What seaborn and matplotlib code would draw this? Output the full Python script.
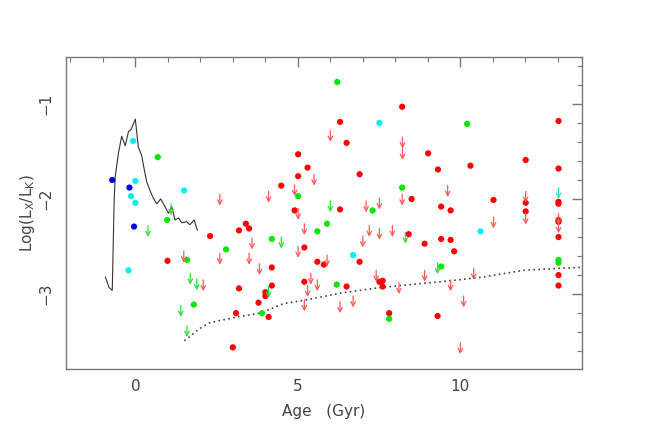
import seaborn as sns
import matplotlib.pyplot as plt
import pandas as pd

# detections (points)
red_x = [2.30, 3.40, 3.19, 3.50, 0.99, 3.19, 3.79, 3.10, 3.00,
         8.21, 6.30, 6.50, 5.01, 5.30, 5.01, 6.90, 4.49, 8.50,
         6.30, 4.90, 8.41, 5.20, 5.60, 5.80, 6.90, 4.20, 7.51, 7.61, 7.61, 5.20,
         6.50, 4.20, 4.00, 4.00, 4.10, 7.81,
         13.02, 9.01, 9.31, 10.31, 12.01, 13.02, 11.02, 9.41, 9.70, 12.01, 12.01,
         13.02, 13.02, 13.02, 13.02, 13.02, 13.02, 13.02, 8.90, 9.41, 9.70, 9.81, 9.30]
red_y = [-2.39, -2.26, -2.33, -2.31, -2.65, -2.94, -3.09, -3.20, -3.56,
         -1.03, -1.19, -1.41, -1.53, -1.67, -1.76, -1.74, -1.86, -2.00,
         -2.11, -2.12, -2.37, -2.51, -2.66, -2.69, -2.66, -2.72, -2.87, -2.86, -2.92, -2.87,
         -2.92, -2.91, -2.98, -3.02, -3.24, -3.20,
         -1.18, -1.52, -1.69, -1.65, -1.59, -1.68, -2.01, -2.08, -2.12, -2.04, -2.13,
         -2.03, -2.05, -2.22, -2.24, -2.40, -2.80, -2.91, -2.47, -2.42, -2.43, -2.55, -3.23]

green_x = [0.69, 0.98, 2.79, 1.59, 1.80, 6.21, 5.01, 8.21, 7.30, 5.90, 5.60,
           4.20, 6.20, 3.90, 7.81, 10.21, 13.02, 13.02, 9.41]
green_y = [-1.56, -2.22, -2.53, -2.64, -3.11, -0.77, -1.97, -1.88, -2.12, -2.26, -2.34,
           -2.42, -2.90, -3.20, -3.26, -1.21, -2.64, -2.67, -2.71]

cyan_x = [-0.07, 0.00, -0.13, 0.00, 1.50, -0.21, 7.51, 6.70, 10.62]
cyan_y = [-1.39, -1.81, -1.97, -2.04, -1.91, -2.75, -1.20, -2.59, -2.34]

blue_x = [-0.71, -0.18, -0.04]
blue_y = [-1.80, -1.88, -2.29]

# upper limits (arrows)
red_lim_x = [2.60, 3.59, 1.49, 2.60, 3.50, 3.82, 2.09,
             6.00, 8.22, 8.22, 5.50, 4.90, 4.10, 8.21, 7.51, 7.10, 5.01, 5.20, 7.20,
             7.51, 7.91, 7.00, 5.01, 5.90, 7.41, 8.11, 5.40, 5.60, 5.30, 5.20, 6.30, 6.70,
             9.61, 12.01, 11.02, 12.01, 13.02, 13.02, 8.90, 10.41, 9.70, 10.10, 10.00]
red_lim_y = [-1.95, -2.41, -2.55, -2.57, -2.57, -2.68, -2.85,
             -1.28, -1.35, -1.47, -1.74, -1.85, -1.92, -1.95, -1.99, -2.02, -2.10, -2.26, -2.28,
             -2.31, -2.28, -2.39, -2.50, -2.59, -2.75, -2.88, -2.78, -2.85, -2.91, -3.06, -3.08, -3.02,
             -1.86, -1.92, -2.19, -2.15, -2.15, -2.24, -2.75, -2.73, -2.85, -3.02, -3.51]

green_lim_x = [1.10, 0.39, 1.69, 1.89, 1.40, 1.59, 6.00, 8.31, 4.49, 4.10, 9.30]
green_lim_y = [-2.05, -2.28, -2.78, -2.84, -3.12, -3.33, -2.02, -2.35, -2.40, -2.92, -2.67]

cyan_lim_x = [13.02]
cyan_lim_y = [-1.88]

# model curves
track_x = [-0.92, -0.81, -0.71, -0.65, -0.62, -0.52, -0.42, -0.31, -0.21, -0.13, -0.06, 0.00,
           0.09, 0.20, 0.28, 0.35, 0.45, 0.55, 0.66, 0.78, 0.88, 1.02, 1.12, 1.22, 1.33,
           1.43, 1.58, 1.68, 1.81, 1.91]
track_y = [-2.82, -2.93, -2.96, -2.00, -1.77, -1.52, -1.34, -1.44, -1.29, -1.27, -1.21, -1.16,
           -1.45, -1.55, -1.70, -1.82, -1.91, -1.99, -2.05, -2.00, -2.06, -2.15, -2.08, -2.22, -2.20,
           -2.25, -2.24, -2.27, -2.22, -2.33]

floor_x = [1.51, 1.73, 1.99, 2.30, 2.71, 3.12, 3.84, 4.56, 5.27, 6.30, 7.33, 8.14, 8.76,
           9.68, 10.71, 11.94, 12.97, 13.68]
floor_y = [-3.49, -3.43, -3.36, -3.30, -3.27, -3.24, -3.20, -3.10, -3.06, -2.99, -2.94, -2.91,
           -2.89, -2.86, -2.82, -2.75, -2.73, -2.72]

sns.set_style("white")
plt.rcParams['font.family'] = ['DejaVu Sans']

pts = pd.concat([
    pd.DataFrame({"age": red_x, "lx": red_y, "grp": "red"}),
    pd.DataFrame({"age": green_x, "lx": green_y, "grp": "green"}),
    pd.DataFrame({"age": cyan_x, "lx": cyan_y, "grp": "cyan"}),
    pd.DataFrame({"age": blue_x, "lx": blue_y, "grp": "blue"}),
])
pal = {"red": "#ff0000", "green": "#00e800", "cyan": "#00f0f0", "blue": "#0000ee"}

fig = plt.figure(figsize=(6.48, 4.37), dpi=100)
ax = fig.add_axes([0.102, 0.155, 0.796, 0.714])

sns.lineplot(x=track_x, y=track_y, sort=False, estimator=None, color="#333333", lw=0.8, ax=ax)
sns.lineplot(x=floor_x, y=floor_y, sort=False, estimator=None, color="#444444", lw=1.2,
             linestyle=(0, (1, 2)), ax=ax)
sns.scatterplot(data=pts, x="age", y="lx", hue="grp", palette=pal, s=20, linewidth=0,
                legend=False, ax=ax, zorder=3)

arrow_len = 0.12
for xs, ys, c in [(red_lim_x, red_lim_y, "#ff5a5a"),
                  (green_lim_x, green_lim_y, "#33dd33"),
                  (cyan_lim_x, cyan_lim_y, "#22e0e8")]:
    for x, y in zip(xs, ys):
        ax.annotate("", xy=(x, y - arrow_len), xytext=(x, y),
                    arrowprops=dict(arrowstyle="->", color=c, lw=0.9,
                                    shrinkA=0, shrinkB=0, mutation_scale=8))

ax.set_xlim(-2.13, 13.74)
ax.set_ylim(-3.79, -0.51)
ax.set_xticks([0, 5, 10])
ax.set_xticks(range(-2, 14), minor=True)
ax.set_yticks([-3, -2, -1])
ax.set_yticks([-3.6 + 0.2 * i for i in range(16)], minor=True)

ax.tick_params(which="both", direction="in", top=True, right=True, colors="#777777",
               labelcolor="#444444", labelsize=11)
ax.tick_params(which="major", length=7, width=1)
ax.tick_params(which="minor", length=3.5, width=0.8)
ax.tick_params(axis="x", pad=7)
ax.tick_params(axis="y", pad=9)
for lab in ax.get_yticklabels():
    lab.set_rotation(90)
    lab.set_va("center")
for sp in ax.spines.values():
    sp.set_color("#777777")
    sp.set_linewidth(1)

ax.set_xlabel("Age   (Gyr)", fontsize=11, color="#444444", labelpad=7)
ax.set_ylabel(r"Log(L$_{\rm X}$/L$_{\rm K}$)", fontsize=11, color="#444444", labelpad=1)

fig.savefig("out.png", dpi=100)
